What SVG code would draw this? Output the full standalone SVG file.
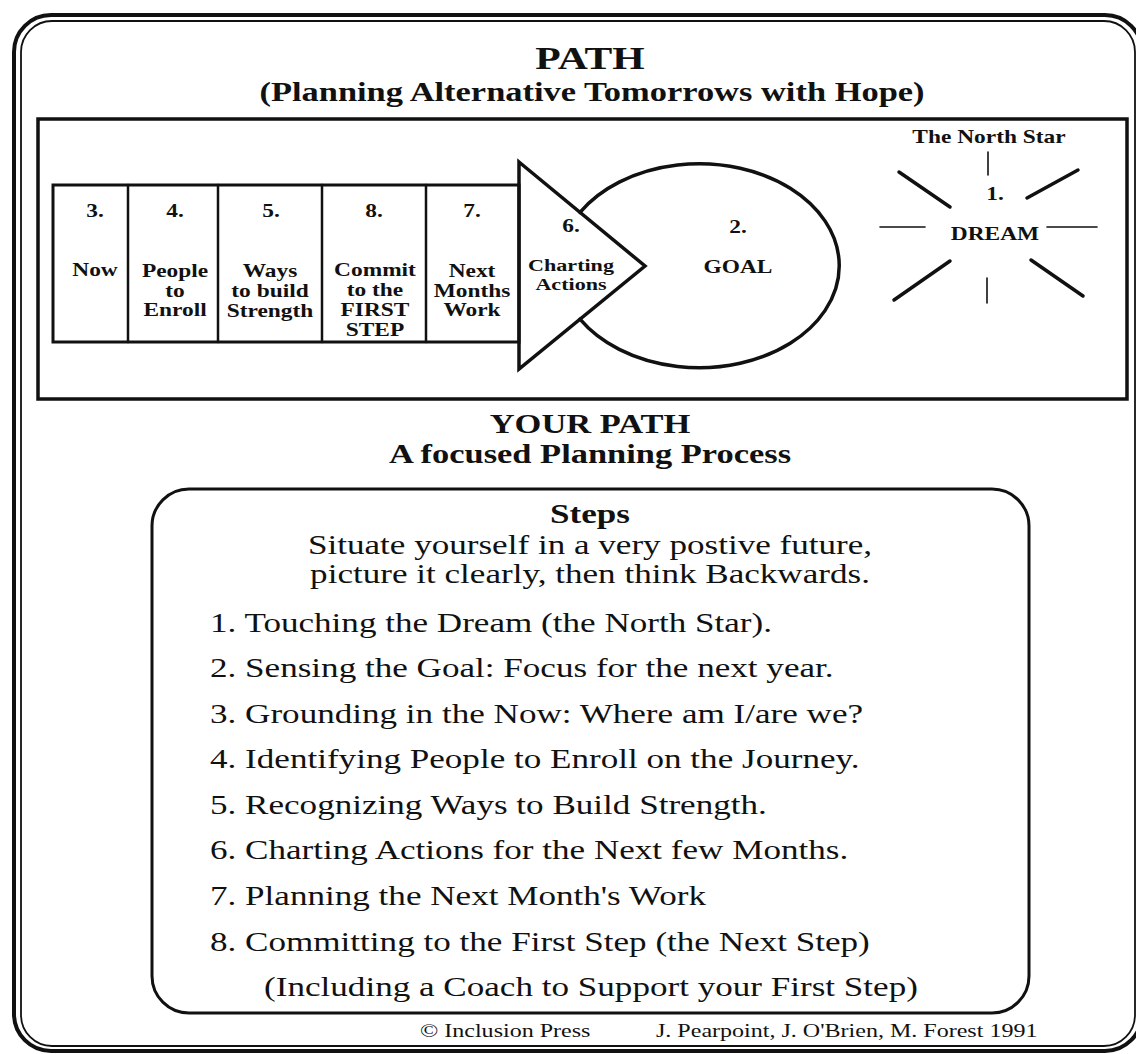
<svg xmlns="http://www.w3.org/2000/svg" width="1136" height="1054" viewBox="0 0 1136 1054">
<style>
.b{font-family:"Liberation Serif","Times New Roman",serif;font-weight:bold;fill:#111;}
.r{font-family:"Liberation Serif","Times New Roman",serif;fill:#111;}
.lab{font-size:18px;text-anchor:middle;}
.ln{fill:none;stroke:#111;stroke-linecap:round;stroke-linejoin:miter;}
.thk{stroke-width:3.5;}
.thn{stroke-width:1.6;}
.step{font-size:27px;}
</style>
<rect width="1136" height="1054" fill="#ffffff"/>

<g id="border">
<rect class="ln" x="14" y="15" width="1128" height="1036" rx="37" stroke-width="4"/>
<rect class="ln" x="21" y="21" width="1114" height="1025" rx="31" stroke-width="1.8"/>
</g>

<g id="title">
<text class="b" transform="translate(590 69) scale(1.3 1)" text-anchor="middle" font-size="32">PATH</text>
<text class="b" transform="translate(592 101) scale(1.3 1)" text-anchor="middle" font-size="26.5">(Planning Alternative Tomorrows with Hope)</text>
</g>

<g id="frame">
<rect class="ln" x="38" y="119" width="1089" height="280" stroke-width="3.5"/>
</g>

<g id="strip">
<rect class="ln" x="53" y="185" width="466" height="157" stroke-width="3"/>
</g>

<g id="step3">
<text class="b lab" transform="translate(95 217) scale(1.3 1)">3.</text>
<text class="b lab" transform="translate(95 276) scale(1.3 1)">Now</text>
</g>
<g id="step4">
<line class="ln" x1="128" y1="185" x2="128" y2="342" stroke-width="2.5"/>
<text class="b lab" transform="translate(175 217) scale(1.3 1)">4.</text>
<text class="b lab" transform="translate(175 277) scale(1.3 1)"><tspan x="0">People</tspan><tspan x="0" dy="20">to</tspan><tspan x="0" dy="19">Enroll</tspan></text>
</g>
<g id="step5">
<line class="ln" x1="218" y1="185" x2="218" y2="342" stroke-width="2.5"/>
<text class="b lab" transform="translate(271 217) scale(1.3 1)">5.</text>
<text class="b lab" transform="translate(270 277) scale(1.3 1)"><tspan x="0">Ways</tspan><tspan x="0" dy="20">to build</tspan><tspan x="0" dy="20">Strength</tspan></text>
</g>
<g id="step8">
<line class="ln" x1="322" y1="185" x2="322" y2="342" stroke-width="2.5"/>
<text class="b lab" transform="translate(374 217) scale(1.3 1)">8.</text>
<text class="b lab" transform="translate(375 276) scale(1.3 1)"><tspan x="0">Commit</tspan><tspan x="0" dy="20">to the</tspan><tspan x="0" dy="20">FIRST</tspan><tspan x="0" dy="20">STEP</tspan></text>
</g>
<g id="step7">
<line class="ln" x1="426" y1="185" x2="426" y2="342" stroke-width="2.5"/>
<text class="b lab" transform="translate(472 217) scale(1.3 1)">7.</text>
<text class="b lab" transform="translate(472 277) scale(1.3 1)"><tspan x="0">Next</tspan><tspan x="0" dy="20">Months</tspan><tspan x="0" dy="19">Work</tspan></text>
</g>

<g id="goal">
<path class="ln" d="M580,212.3 A140,102 0 1,1 580,319.2" stroke-width="3.5"/>
<text class="b lab" transform="translate(738 233) scale(1.3 1)">2.</text>
<text class="b lab" transform="translate(738 273) scale(1.3 1)">GOAL</text>
</g>

<g id="step6">
<polygon class="ln" points="519,162 645,266 519,369" stroke-width="3.5"/>
<text class="b lab" transform="translate(571 232) scale(1.3 1)">6.</text>
<text class="b" transform="translate(571 271) scale(1.3 1)" text-anchor="middle" font-size="17"><tspan x="0">Charting</tspan><tspan x="0" dy="19.5">Actions</tspan></text>
</g>

<g id="dream">
<text class="b lab" transform="translate(989 143) scale(1.3 1)">The North Star</text>
<text class="b lab" transform="translate(995 200) scale(1.3 1)">1.</text>
<text class="b lab" transform="translate(995 240) scale(1.3 1)">DREAM</text>
</g>

<g id="connectors">
<line class="ln thn" x1="988" y1="152" x2="988" y2="175"/>
<line class="ln thn" x1="987" y1="278" x2="987" y2="303"/>
<line class="ln thn" x1="880" y1="227" x2="925" y2="227"/>
<line class="ln thn" x1="1047" y1="227" x2="1097" y2="227"/>
<line class="ln thk" x1="899" y1="172" x2="950" y2="207"/>
<line class="ln thk" x1="1027" y1="198" x2="1078" y2="170"/>
<line class="ln thk" x1="950" y1="261" x2="894" y2="300"/>
<line class="ln thk" x1="1031" y1="260" x2="1083" y2="296"/>
</g>

<g id="your-path">
<text class="b" transform="translate(590 433) scale(1.3 1)" text-anchor="middle" font-size="26.5">YOUR PATH</text>
<text class="b" transform="translate(590 463) scale(1.3 1)" text-anchor="middle" font-size="26.5">A focused Planning Process</text>
</g>

<g id="steps-box">
<rect class="ln" x="152" y="489" width="877" height="524" rx="37" stroke-width="3"/>
<text class="b" transform="translate(590 523) scale(1.3 1)" text-anchor="middle" font-size="27">Steps</text>
<text class="r" transform="translate(590 554) scale(1.3 1)" text-anchor="middle" font-size="27">Situate yourself in a very postive future,</text>
<text class="r" transform="translate(590 583) scale(1.3 1)" text-anchor="middle" font-size="27">picture it clearly, then think Backwards.</text>
<text class="r step" transform="translate(210 632) scale(1.3 1)">1. Touching the Dream (the North Star).</text>
<text class="r step" transform="translate(210 677) scale(1.3 1)">2. Sensing the Goal: Focus for the next year.</text>
<text class="r step" transform="translate(210 723) scale(1.3 1)">3. Grounding in the Now: Where am I/are we?</text>
<text class="r step" transform="translate(210 768) scale(1.3 1)">4. Identifying People to Enroll on the Journey.</text>
<text class="r step" transform="translate(210 814) scale(1.3 1)">5. Recognizing Ways to Build Strength.</text>
<text class="r step" transform="translate(210 859) scale(1.3 1)">6. Charting Actions for the Next few Months.</text>
<text class="r step" transform="translate(210 905) scale(1.3 1)">7. Planning the Next Month's Work</text>
<text class="r step" transform="translate(210 951) scale(1.3 1)">8. Committing to the First Step (the Next Step)</text>
<text class="r" transform="translate(591 996) scale(1.3 1)" text-anchor="middle" font-size="27">(Including a Coach to Support your First Step)</text>
</g>

<g id="footer">
<text class="r" transform="translate(420 1037) scale(1.3 1)" font-size="18.5">© Inclusion Press</text>
<text class="r" transform="translate(656 1037) scale(1.3 1)" font-size="18.5">J. Pearpoint, J. O'Brien, M. Forest 1991</text>
</g>
</svg>
